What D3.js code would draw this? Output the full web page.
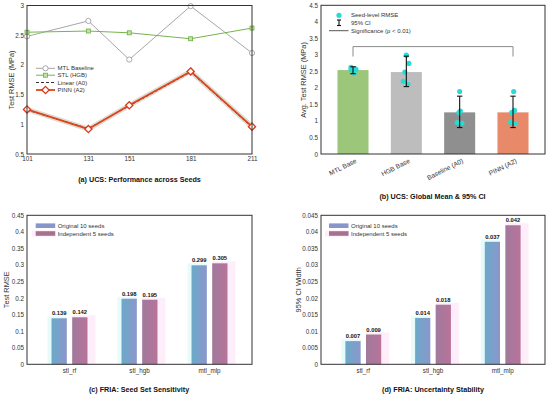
<!DOCTYPE html>
<html><head><meta charset="utf-8">
<script src="https://cdn.jsdelivr.net/npm/d3@7"></script>
<style>
html,body{margin:0;padding:0;background:#fff;}
svg{display:block;font-family:"Liberation Sans",Arial,sans-serif;}
</style></head>
<body><svg id="c" width="550" height="396"></svg>
<script>
// ---------- DATA ----------
const seeds = [101, 131, 151, 181, 211];
const mtlBaseline = [2.48, 2.74, 2.09, 2.99, 2.20];
const stlHgb = [2.55, 2.57, 2.54, 2.44, 2.62];
const linearA0 = [1.24, 0.93, 1.31, 1.88, 0.95];
const pinnA2 = [1.25, 0.92, 1.32, 1.89, 0.96];
const yTicksA = [0.5, 1, 1.5, 2, 2.5, 3];

const bModels = ["MTL Base", "HGB Base", "Baseline (A0)", "PINN (A2)"];
const bMeans = [2.54, 2.48, 1.26, 1.26];
const bCiLow = [2.43, 2.04, 0.80, 0.80];
const bCiHigh = [2.64, 2.96, 1.75, 1.75];
const bSeedVals = [
  [2.62, 2.56, 2.44, 2.55, 2.58],
  [2.99, 2.74, 2.48, 2.20, 2.10],
  [1.89, 1.30, 1.25, 0.95, 0.93],
  [1.89, 1.32, 1.25, 0.96, 0.92]
];
const bSigLevel = 3.25;
const yTicksB = [0, 0.5, 1, 1.5, 2, 2.5, 3, 3.5, 4, 4.5];

const fCats = ["stl_rf", "stl_hgb", "mtl_mlp"];
const cOriginal = [0.139, 0.198, 0.299];
const cIndep = [0.142, 0.195, 0.305];
const yTicksC = [0, 0.05, 0.1, 0.15, 0.2, 0.25, 0.3, 0.35, 0.4, 0.45];
const dOriginal = [0.007, 0.014, 0.037];
const dIndep = [0.009, 0.018, 0.042];
const yTicksD = [0, 0.005, 0.01, 0.015, 0.02, 0.025, 0.03, 0.035, 0.04, 0.045];

// ---------- STYLE ----------
const FONT_TICK = 6.3, FONT_LAB = 7.4, FONT_TITLE = 7.2, FONT_LEG = 6;
const FRAME = "#333";
const svg = d3.select("#c");
const defs = svg.append("defs");
function grad(id, c1, c2){
  const g = defs.append("linearGradient").attr("id", id).attr("x1","0").attr("x2","1").attr("y1","0").attr("y2","0");
  g.append("stop").attr("offset","0").attr("stop-color",c1);
  g.append("stop").attr("offset","1").attr("stop-color",c2);
}
grad("gOrig", "#6aaac9", "#8c96cb");
grad("gInd", "#a07a9c", "#b8739a");

function frame(x0,x1,y0,y1){
  svg.append("rect").attr("x",x0).attr("y",y0).attr("width",x1-x0).attr("height",y1-y0)
    .attr("fill","none").attr("stroke",FRAME).attr("stroke-width",1);
}
function styleAxis(g){
  g.select(".domain").remove();
  g.selectAll("text").attr("font-size",FONT_TICK).attr("fill","#333").attr("font-family","Liberation Sans, Arial, sans-serif");
}
function yLabel(text,x,y){
  svg.append("text").attr("transform",`translate(${x},${y}) rotate(-90)`).attr("text-anchor","middle")
    .attr("dominant-baseline","central").attr("font-size",FONT_LAB).attr("fill","#333").text(text);
}
function title(text,x,y){
  svg.append("text").attr("x",x).attr("y",y).attr("text-anchor","middle").attr("font-size",FONT_TITLE)
    .attr("font-weight","bold").attr("fill","#111").text(text);
}

// ---------- PANEL A ----------
(function(){
  const X0=27,X1=252,Y0=5.5,Y1=154;
  const x = d3.scaleLinear().domain([101,211]).range([X0,X1]);
  const y = d3.scaleLinear().domain([0.5,3]).range([Y1,Y0]);
  const gx = svg.append("g").attr("transform",`translate(0,${Y1})`)
    .call(d3.axisBottom(x).tickValues(seeds).tickSize(0).tickPadding(3).tickFormat(d3.format("d")));
  styleAxis(gx);
  const gy = svg.append("g").attr("transform",`translate(${X0},0)`)
    .call(d3.axisLeft(y).tickValues(yTicksA).tickSize(0).tickPadding(3).tickFormat(d=>String(d)));
  styleAxis(gy);
  const line = arr => d3.line().x((d,i)=>x(seeds[i])).y(d=>y(d))(arr);
  // MTL
  svg.append("path").attr("d",line(mtlBaseline)).attr("fill","none").attr("stroke","#a6a6a6").attr("stroke-width",1);
  svg.selectAll(".mc").data(mtlBaseline).enter().append("circle")
    .attr("cx",(d,i)=>x(seeds[i])).attr("cy",d=>y(d)).attr("r",2.6)
    .attr("fill","#fff").attr("stroke","#a0a0a0").attr("stroke-width",0.9);
  // STL
  svg.append("path").attr("d",line(stlHgb)).attr("fill","none").attr("stroke","#74b64a").attr("stroke-width",1);
  svg.selectAll(".sq").data(stlHgb).enter().append("rect")
    .attr("x",(d,i)=>x(seeds[i])-2).attr("y",d=>y(d)-2).attr("width",4).attr("height",4)
    .attr("fill","#c5e3a8").attr("stroke","#6aae3e").attr("stroke-width",0.8);
  // shadow band
  svg.append("path").attr("d",line(pinnA2)).attr("fill","none").attr("stroke","#dcdcd2").attr("stroke-width",5).attr("stroke-linejoin","round");
  // Linear dashed
  svg.append("path").attr("d",line(linearA0)).attr("fill","none").attr("stroke","#333").attr("stroke-width",1).attr("stroke-dasharray","3,2");
  // PINN
  svg.append("path").attr("d",line(pinnA2)).attr("fill","none").attr("stroke","#e0441c").attr("stroke-width",1.8).attr("stroke-linejoin","round");
  const dia = s => `M0,${-s}L${s},0L0,${s}L${-s},0Z`;
  svg.selectAll(".dm").data(pinnA2).enter().append("path")
    .attr("transform",(d,i)=>`translate(${x(seeds[i])},${y(d)})`).attr("d",dia(3.6))
    .attr("fill","#fff").attr("stroke","#d9381a").attr("stroke-width",1.3);
  frame(X0,X1,Y0,Y1);
  // legend
  const lx0=36, lx1=55, tx=57.5;
  const rows=[68.3,75.2,82.5,90];
  const names=["MTL Baseline","STL (HGB)","Linear (A0)","PINN (A2)"];
  svg.append("line").attr("x1",lx0).attr("x2",lx1).attr("y1",rows[0]).attr("y2",rows[0]).attr("stroke","#a6a6a6");
  svg.append("circle").attr("cx",(lx0+lx1)/2).attr("cy",rows[0]).attr("r",2.6).attr("fill","#fff").attr("stroke","#a0a0a0").attr("stroke-width",0.9);
  svg.append("line").attr("x1",lx0).attr("x2",lx1).attr("y1",rows[1]).attr("y2",rows[1]).attr("stroke","#74b64a");
  svg.append("rect").attr("x",(lx0+lx1)/2-2).attr("y",rows[1]-2).attr("width",4).attr("height",4).attr("fill","#c5e3a8").attr("stroke","#6aae3e").attr("stroke-width",0.8);
  svg.append("line").attr("x1",lx0).attr("x2",lx1).attr("y1",rows[2]).attr("y2",rows[2]).attr("stroke","#333").attr("stroke-dasharray","3,2");
  svg.append("line").attr("x1",lx0).attr("x2",lx1).attr("y1",rows[3]).attr("y2",rows[3]).attr("stroke","#e0441c").attr("stroke-width",1.8);
  svg.append("path").attr("transform",`translate(${(lx0+lx1)/2},${rows[3]})`).attr("d",dia(3.6)).attr("fill","#fff").attr("stroke","#d9381a").attr("stroke-width",1.3);
  names.forEach((n,i)=>svg.append("text").attr("x",tx).attr("y",rows[i]).attr("dominant-baseline","central").attr("font-size",FONT_LEG).attr("fill","#333").text(n));
  yLabel("Test RMSE (MPa)",11.5,80);
  title("(a) UCS: Performance across Seeds",139.5,181.5);
})();

// ---------- PANEL B ----------
(function(){
  const X0=321,X1=545,Y0=5.3,Y1=154;
  const x = d3.scaleBand().domain(bModels).range([X0,X1]).paddingInner(0.418).paddingOuter(0.309);
  const y = d3.scaleLinear().domain([0,4.5]).range([Y1,Y0]);
  const gy = svg.append("g").attr("transform",`translate(${X0},0)`)
    .call(d3.axisLeft(y).tickValues(yTicksB).tickSize(0).tickPadding(3).tickFormat(d=>String(d)));
  styleAxis(gy);
  const colors = ["#9cc67a","#bdbdbd","#8f8f8f","#e8896a"];
  svg.selectAll(".bb").data(bMeans).enter().append("rect")
    .attr("x",(d,i)=>x(bModels[i])).attr("y",d=>y(d)).attr("width",x.bandwidth()).attr("height",d=>Y1-y(d))
    .attr("fill",(d,i)=>colors[i]);
  const jit = [[-2,3,1,-2,2],[0,2.5,-1.5,-3,1.5],[0,0.7,-0.7,-2.3,2.3],[0.7,1.4,-1.3,-2.6,2.7]];
  bSeedVals.forEach((vals,i)=>{
    const cx = x(bModels[i])+x.bandwidth()/2;
    vals.forEach((v,j)=>svg.append("circle").attr("cx",cx+jit[i][j]).attr("cy",y(v)).attr("r",2.6).attr("fill","#26dcd6"));
  });
  bModels.forEach((m,i)=>{
    const cx = x(m)+x.bandwidth()/2;
    const g = svg.append("g").attr("stroke","#111").attr("stroke-width",1.1);
    g.append("line").attr("x1",cx).attr("x2",cx).attr("y1",y(bCiLow[i])).attr("y2",y(bCiHigh[i]));
    g.append("line").attr("x1",cx-2.7).attr("x2",cx+2.7).attr("y1",y(bCiLow[i])).attr("y2",y(bCiLow[i]));
    g.append("line").attr("x1",cx-2.7).attr("x2",cx+2.7).attr("y1",y(bCiHigh[i])).attr("y2",y(bCiHigh[i]));
  });
  // significance bracket
  const sx0 = x(bModels[0])+x.bandwidth()/2, sx1 = x(bModels[3])+x.bandwidth()/2;
  svg.append("path").attr("d",`M${sx0},${y(2.95)}V${y(bSigLevel)}H${sx1}V${y(2.95)}`)
    .attr("fill","none").attr("stroke","#8a8a8a").attr("stroke-width",1);
  frame(X0,X1,Y0,Y1);
  // x labels rotated
  bModels.forEach((m,i)=>{
    const cx = x(m)+x.bandwidth()/2+3;
    svg.append("text").attr("transform",`translate(${cx},${Y1+6}) rotate(-27)`).attr("text-anchor","end")
      .attr("dominant-baseline","central").attr("font-size",6.6).attr("fill","#333").text(m);
  });
  // legend
  const tx=351;
  svg.append("circle").attr("cx",339).attr("cy",15.3).attr("r",2.6).attr("fill","#26dcd6");
  svg.append("text").attr("x",tx).attr("y",15.3).attr("dominant-baseline","central").attr("font-size",FONT_LEG).attr("fill","#333").text("Seed-level RMSE");
  const gl = svg.append("g").attr("stroke","#111").attr("stroke-width",1.1);
  gl.append("line").attr("x1",339).attr("x2",339).attr("y1",20).attr("y2",25.5);
  gl.append("line").attr("x1",337).attr("x2",341).attr("y1",20).attr("y2",20);
  gl.append("line").attr("x1",337).attr("x2",341).attr("y1",25.5).attr("y2",25.5);
  svg.append("text").attr("x",tx).attr("y",22.7).attr("dominant-baseline","central").attr("font-size",FONT_LEG).attr("fill","#333").text("95% CI");
  svg.append("line").attr("x1",329).attr("x2",348.5).attr("y1",30.7).attr("y2",30.7).attr("stroke","#555").attr("stroke-width",1);
  svg.append("text").attr("x",tx).attr("y",30.7).attr("dominant-baseline","central").attr("font-size",FONT_LEG).attr("fill","#333").text("Significance (p < 0.01)");
  yLabel("Avg. Test RMSE (MPa)",303.7,80);
  title("(b) UCS: Global Mean & 95% CI",432.5,199.3);
})();

// ---------- PANELS C & D ----------
function groupedPanel(X0,X1,Y0,Y1,ymax,ticks,orig,ind,fmtTick,ylab,labX,ttl,ttlX,legX){
  const x0 = d3.scaleBand().domain(fCats).range([X0,X1]).paddingInner(0.486).paddingOuter(0.35);
  const x1 = d3.scaleBand().domain(["o","i"]).range([0,x0.bandwidth()]).paddingInner(0.26);
  const y = d3.scaleLinear().domain([0,ymax]).range([Y1,Y0]);
  const gy = svg.append("g").attr("transform",`translate(${X0},0)`)
    .call(d3.axisLeft(y).tickValues(ticks).tickSize(0).tickPadding(3).tickFormat(fmtTick));
  styleAxis(gy);
  const gx = svg.append("g").attr("transform",`translate(0,${Y1})`)
    .call(d3.axisBottom(x0).tickSize(0).tickPadding(4));
  styleAxis(gx);
  const bw = x1.bandwidth();
  fCats.forEach((c,i)=>{
    const xo = x0(c)+x1("o"), xi = x0(c)+x1("i");
    // faint glows
    svg.append("rect").attr("x",xo-4).attr("y",y(orig[i])-2).attr("width",bw+4).attr("height",Y1-y(orig[i])+2).attr("fill","#e8fbfb");
    svg.append("rect").attr("x",xi).attr("y",y(ind[i])-2).attr("width",bw+8).attr("height",Y1-y(ind[i])+2).attr("fill","#fdeefa");
  });
  fCats.forEach((c,i)=>{
    const xo = x0(c)+x1("o"), xi = x0(c)+x1("i");
    svg.append("rect").attr("x",xo).attr("y",y(orig[i])).attr("width",bw).attr("height",Y1-y(orig[i])).attr("fill","url(#gOrig)");
    svg.append("rect").attr("x",xi).attr("y",y(ind[i])).attr("width",bw).attr("height",Y1-y(ind[i])).attr("fill","url(#gInd)");
    svg.append("text").attr("x",xo+bw/2).attr("y",y(orig[i])-3).attr("text-anchor","middle").attr("font-size",5.8).attr("font-weight","bold").attr("fill","#111").text(d3.format(".3f")(orig[i]));
    svg.append("text").attr("x",xi+bw/2).attr("y",y(ind[i])-3).attr("text-anchor","middle").attr("font-size",5.8).attr("font-weight","bold").attr("fill","#111").text(d3.format(".3f")(ind[i]));
  });
  frame(X0,X1,Y0,Y1);
  // legend
  svg.append("rect").attr("x",legX-4).attr("y",230.5).attr("width",24).attr("height",6).attr("fill","#fdeefa");
  svg.append("rect").attr("x",legX).attr("y",223.4).attr("width",19.5).attr("height",4.6).attr("fill","#8896cc");
  svg.append("rect").attr("x",legX).attr("y",231.2).attr("width",19.5).attr("height",4.6).attr("fill","#a8718f");
  svg.append("text").attr("x",legX+22).attr("y",225.7).attr("dominant-baseline","central").attr("font-size",FONT_LEG).attr("fill","#333").text("Original 10 seeds");
  svg.append("text").attr("x",legX+22).attr("y",233.5).attr("dominant-baseline","central").attr("font-size",FONT_LEG).attr("fill","#333").text("Independent 5 seeds");
  yLabel(ylab,labX,(Y0+Y1)/2);
  title(ttl,ttlX,392.3);
}
groupedPanel(27,252,215.3,364.3,0.45,yTicksC,cOriginal,cIndep,d=>String(d),"Test RMSE",6.5,"(c) FRIA: Seed Set Sensitivity",139,35.7);
groupedPanel(321,545,215.3,364.3,0.045,yTicksD,dOriginal,dIndep,d=>String(d),"95% CI Width",298,"(d) FRIA: Uncertainty Stability",433,329);
</script></body></html>
